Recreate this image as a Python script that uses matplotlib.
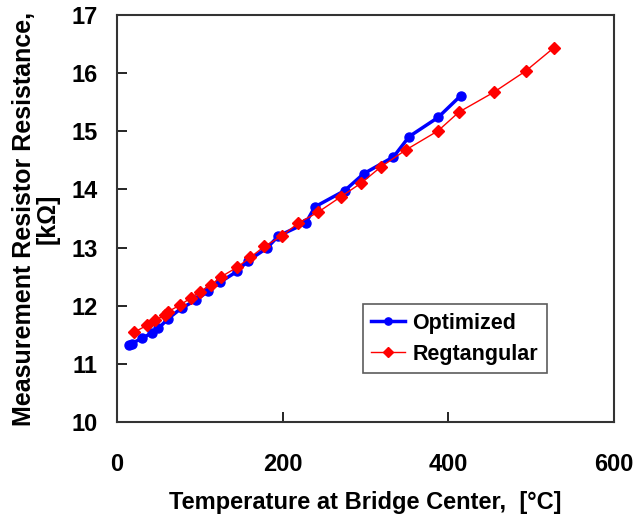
import matplotlib
matplotlib.use("Agg")
import matplotlib.pyplot as plt

plt.rcParams['font.family'] = ['Liberation Sans', 'DejaVu Sans']
plt.rcParams['font.weight'] = 'bold'

# Optimized bridge (blue)
opt_t = [14, 18, 30, 42, 50, 62, 78, 96, 110, 124, 145, 158, 181, 195,
         228, 239, 275, 298, 334, 353, 388, 415]
opt_r = [11.32, 11.35, 11.44, 11.53, 11.61, 11.78, 11.96, 12.10, 12.25, 12.40,
         12.59, 12.77, 12.99, 13.20, 13.42, 13.70, 13.98, 14.27, 14.56, 14.91,
         15.24, 15.61]

# Regtangular bridge (red)
rect_t = [20, 36, 46, 58, 62, 76, 90, 100, 114, 126, 145, 161, 178, 199,
          219, 243, 270, 295, 319, 349, 388, 413, 455, 494, 528]
rect_r = [11.54, 11.66, 11.75, 11.84, 11.90, 12.01, 12.14, 12.24, 12.36, 12.50,
          12.66, 12.83, 13.02, 13.20, 13.42, 13.61, 13.87, 14.11, 14.39, 14.68,
          15.01, 15.33, 15.67, 16.04, 16.44]

fig = plt.figure(figsize=(6.34, 5.23), dpi=100)
ax = fig.add_axes([0.1845, 0.1931, 0.7835, 0.7782])

ax.plot(opt_t, opt_r, color='#0000FF', lw=2.5, marker='o', ms=6.5,
        label='Optimized')
ax.plot(rect_t, rect_r, color='#FF0000', lw=1.0, marker='D', ms=6,
        label='Regtangular')

ax.set_xlim(0, 600)
ax.set_ylim(10, 17)
ax.set_xticks([0, 200, 400, 600])
ax.set_yticks(range(10, 18))
ax.tick_params(direction='in', length=7, width=1.2, labelsize=17)
ax.tick_params(axis='x', pad=22)
ax.tick_params(axis='y', pad=14)
for s in ax.spines.values():
    s.set_linewidth(1.5)
    s.set_color('#333333')

ax.set_xlabel('Temperature at Bridge Center,  [\u00b0C]', fontsize=17,
              fontweight='bold', labelpad=11)
ax.set_ylabel('Measurement Resistor Resistance,\n[k\u03a9]', fontsize=18,
              fontweight='bold', labelpad=8, linespacing=1.0)

leg = ax.legend(loc='lower left', bbox_to_anchor=(0.495, 0.12),
                borderaxespad=0, fontsize=15.5, frameon=True, fancybox=False,
                handlelength=1.55, borderpad=0.4, labelspacing=0.45,
                handletextpad=0.35, markerscale=0.8)
leg.get_frame().set_edgecolor('#333333')
leg.get_frame().set_linewidth(1.2)

fig.savefig('out.png', dpi=100)
